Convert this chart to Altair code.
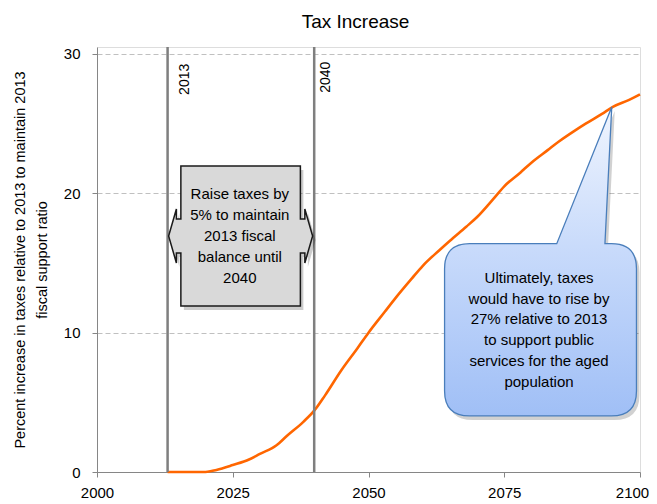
import altair as alt
import pandas as pd

# ---- data ----
years = [2013, 2015, 2018, 2020, 2022, 2025, 2028, 2030, 2033, 2035, 2038, 2040,
         2042, 2045, 2048, 2050, 2053, 2055, 2058, 2060, 2063, 2065, 2068, 2070,
         2073, 2075, 2078, 2080, 2083, 2085, 2088, 2090, 2093, 2095, 2098, 2100]
values = [0.0, 0.0, 0.0, 0.0, 0.15, 0.5, 0.9, 1.3, 1.9, 2.6, 3.6, 4.4,
          5.5, 7.3, 8.9, 10.0, 11.5, 12.5, 13.9, 14.8, 15.9, 16.6, 17.6, 18.3,
          19.6, 20.5, 21.5, 22.2, 23.1, 23.7, 24.5, 25.0, 25.7, 26.2, 26.7, 27.1]

marker_years = [2013, 2040]
marker_labels = ["2013", "2040"]
marker_label_x = [2016.2, 2042.2]
marker_label_y = [29.3, 29.45]

y_ticks = [0, 10, 20, 30]
x_ticks = [2000, 2025, 2050, 2075, 2100]
y_top = 30.5

gray_note_lines = ["Raise taxes by", "5% to maintain", "2013 fiscal", "balance until", "2040"]
gray_note_pos = [2026.45, 16.94]
gray_text_pos = [2026.3, 19.95]

blue_note_lines = ["Ultimately, taxes", "would have to rise by", "27% relative to 2013",
                   "to support public", "services for the aged", "population"]
blue_note_pos = [2081.68, 15.11]
blue_text_pos = [2081.4, 13.94]

FONT = "Liberation Sans, Arial, sans-serif"

line_df = pd.DataFrame({"year": years, "value": values})
marker_df = pd.DataFrame({"year": marker_years, "label": marker_labels,
                          "lx": marker_label_x, "ly": marker_label_y,
                          "y0": [0, 0], "y1": [y_top, y_top]})
one_df = pd.DataFrame({"k": [0]})

xscale = alt.Scale(domain=[2000, 2100], nice=False, zero=False)
yscale = alt.Scale(domain=[0, y_top], nice=False)

line = alt.Chart(line_df).mark_line(color="#ff6600", strokeWidth=2.6, interpolate="monotone").encode(
    x=alt.X("year:Q", scale=xscale, axis=alt.Axis(
        values=x_ticks, title=None, format="d", grid=False, labelFlush=False,
        labelOffset={"condition": {"test": "datum.value == 2100", "value": -8}, "value": 0},
        domainColor="#868686", tickColor="#868686", tickSize=5,
        labelFontSize=15, labelFont=FONT, labelColor="#000", labelPadding=8)),
    y=alt.Y("value:Q", scale=yscale, axis=alt.Axis(
        values=y_ticks, grid=True, gridDash=[5, 3], gridColor="#c0c0c0", labelFlush=False,
        domainColor="#868686", tickColor="#868686", tickSize=5,
        labelFontSize=15, labelFont=FONT, labelColor="#000", labelPadding=12,
        title=["Percent increase in taxes relative to 2013 to maintain 2013",
               "fiscal support ratio"],
        titleFont=FONT, titleFontSize=14.5, titleFontWeight="normal",
        titleColor="#000", titleLineHeight=22, titlePadding=14)),
)

rules = alt.Chart(marker_df).mark_rule(color="#7f7f7f", strokeWidth=2.5).encode(
    x=alt.X("year:Q", scale=xscale), y=alt.Y("y0:Q", scale=yscale), y2="y1:Q")

rule_labels = alt.Chart(marker_df).mark_text(
    angle=270, align="right", baseline="middle", fontSize=14, font=FONT, color="#000"
).encode(x=alt.X("lx:Q", scale=xscale), y=alt.Y("ly:Q", scale=yscale), text="label:N")

gray_path = ("M -0.83 -0.972 L 0.83 -0.972 L 0.83 -0.236 L 0.892 -0.236 L 0.892 -0.375 "
             "L 1 0 L 0.892 0.375 L 0.892 0.236 L 0.83 0.236 L 0.83 0.972 L -0.83 0.972 "
             "L -0.83 0.236 L -0.892 0.236 L -0.892 0.375 L -1 0 L -0.892 -0.375 "
             "L -0.892 -0.236 L -0.83 -0.236 Z")
blue_path = ("M -0.459 -0.115 L 0.105 -0.115 L 0.461 -1 L 0.417 -0.115 L 0.459 -0.115 "
             "Q 0.621 -0.115 0.621 0.047 L 0.621 0.838 Q 0.621 1 0.459 1 L -0.459 1 "
             "Q -0.621 1 -0.621 0.838 L -0.621 0.047 Q -0.621 -0.115 -0.459 -0.115 Z")

def shape_layer(path, size, pos, **kw):
    return alt.Chart(one_df).mark_point(shape=path, size=size, filled=True, opacity=1, **kw).encode(
        x=alt.datum(pos[0], scale=xscale), y=alt.datum(pos[1], scale=yscale))

gray_shadow = shape_layer(gray_path, 20736, gray_note_pos, fill="#000000", fillOpacity=0.2,
                          strokeWidth=0, xOffset=3, yOffset=4)
gray_box = shape_layer(gray_path, 20736, gray_note_pos, fill="#d9d9d9", fillOpacity=1,
                       stroke="#1a1a1a", strokeWidth=1.5, strokeOpacity=1)

blue_grad = alt.Gradient(gradient="linear", x1=0, x2=0, y1=0, y2=1,
                         stops=[alt.GradientStop(color="#f0f5fe", offset=0),
                                alt.GradientStop(color="#c9dbfb", offset=0.45),
                                alt.GradientStop(color="#a0bff6", offset=1)])
blue_shadow = shape_layer(blue_path, 95481, blue_note_pos, fill="#000000", fillOpacity=0.18,
                          strokeWidth=0, xOffset=3, yOffset=4)
blue_box = shape_layer(blue_path, 95481, blue_note_pos, fill=blue_grad, fillOpacity=1,
                       stroke="#4a7ebb", strokeWidth=1.3, strokeOpacity=1)

gray_text = alt.Chart(one_df).mark_text(
    text=gray_note_lines, lineHeight=21, fontSize=15, font=FONT, color="#000",
    align="center", baseline="middle").encode(
    x=alt.datum(gray_text_pos[0], scale=xscale), y=alt.datum(gray_text_pos[1], scale=yscale))

blue_text = alt.Chart(one_df).mark_text(
    text=blue_note_lines, lineHeight=20.8, fontSize=15, font=FONT, color="#000",
    align="center", baseline="middle").encode(
    x=alt.datum(blue_text_pos[0], scale=xscale), y=alt.datum(blue_text_pos[1], scale=yscale))

chart = alt.layer(line, rules, rule_labels, gray_shadow, gray_box, gray_text,
                  blue_shadow, blue_box, blue_text).properties(
    width=543, height=425,
    title=alt.TitleParams("Tax Increase", font=FONT, fontSize=19, fontWeight="normal",
                          color="#000", anchor="middle", frame="group", dx=-13, offset=14),
    autosize=alt.AutoSizeParams(type="none"),
    padding={"left": 89, "top": 39, "right": 9, "bottom": 34},
).configure_view(stroke=None).configure(background="white")

chart.save("out.html", embed_options={"renderer": "svg", "actions": False})
